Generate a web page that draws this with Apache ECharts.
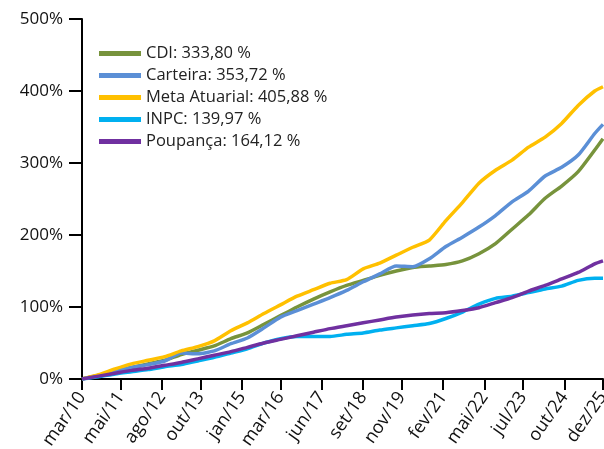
<!DOCTYPE html>
<html>
<head>
<meta charset="utf-8">
<script src="https://cdn.jsdelivr.net/npm/echarts@6/dist/echarts.min.js"></script>
<style>
  html, body { margin: 0; padding: 0; background: #fff; }
  #chart { width: 604px; height: 449px; }
</style>
</head>
<body>
<div id="chart"></div>
<script>
// meses desde mar/10 (amostra semestral)
const months = [0, 6, 12, 18, 24, 30, 36, 42, 48, 54, 60, 66, 72, 78, 84, 90, 96,
  102, 108, 114, 120, 126, 132, 138, 144, 150, 156, 162, 168, 174, 180, 186, 189];

const cdi = [0, 5, 11, 16, 21, 26, 34, 40, 46, 56, 64, 76, 88, 100, 111, 121, 130,
  137, 144, 150, 155, 157, 159, 164, 174, 188, 208, 228, 251, 268, 288, 318, 333.8];
const carteira = [0, 5, 11, 16, 20, 25, 36, 35, 39, 49, 57, 71, 86, 95, 104, 113, 123,
  135, 146, 157, 156, 167, 184, 197, 211, 227, 246, 261, 282, 294, 311, 341, 353.72];
const meta = [0, 6, 14, 21, 26, 31, 39, 45, 53, 67, 78, 91, 103, 115, 124, 133, 138,
  153, 161, 172, 183, 193, 220, 245, 272, 290, 304, 322, 336, 355, 380, 400, 405.88];
const inpc = [0, 3, 7, 10, 13, 17, 20, 25, 30, 36, 42, 50, 56, 59, 59, 59, 62,
  64, 68, 71, 74, 77, 84, 93, 104, 112, 115, 120, 125, 129, 137, 140, 139.97];
const poupanca = [0, 4, 8, 12, 15, 19, 23, 28, 33, 38, 44, 50, 55, 60, 65, 70, 74,
  78, 82, 86, 89, 91, 92, 95, 99, 106, 113, 122, 130, 139, 148, 160, 164.12];

const tickLabels = ['mar/10', 'mai/11', 'ago/12', 'out/13', 'jan/15', 'mar/16', 'jun/17',
  'set/18', 'nov/19', 'fev/21', 'mai/22', 'jul/23', 'out/24', 'dez/25'];

const mesesPt = ['jan', 'fev', 'mar', 'abr', 'mai', 'jun', 'jul', 'ago', 'set', 'out', 'nov', 'dez'];
function labelToMonth(s) {
  const p = s.split('/');
  return (parseInt(p[1], 10) - 10) * 12 + mesesPt.indexOf(p[0]) - 2;
}
const tickMonths = tickLabels.map(labelToMonth);

function pairs(vals) {
  return vals.map((v, i) => [months[i], v]);
}

const seriesDef = [
  { name: 'CDI: 333,80 %', data: cdi, color: '#77933C' },
  { name: 'Carteira: 353,72 %', data: carteira, color: '#5B8FD6' },
  { name: 'Meta Atuarial: 405,88 %', data: meta, color: '#FFC000' },
  { name: 'INPC: 139,97 %', data: inpc, color: '#00B0F0' },
  { name: 'Poupança: 164,12 %', data: poupanca, color: '#7030A0' }
];

const chart = echarts.init(document.getElementById('chart'), null, { renderer: 'canvas' });

const option = {
  animation: false,
  backgroundColor: '#fff',
  grid: { left: 82, right: 1, top: 19, bottom: 70, containLabel: false, outerBoundsMode: 'none' },
  legend: {
    orient: 'vertical',
    left: 94,
    top: 40,
    itemWidth: 42,
    itemHeight: 5,
    itemGap: 5,
    icon: 'rect',
    textStyle: { fontFamily: 'Open Sans', fontSize: 16.5, color: '#222' },
    data: seriesDef.map(s => s.name)
  },
  xAxis: {
    type: 'value',
    min: 0,
    max: 189,
    splitLine: { show: false },
    axisLine: { lineStyle: { color: '#000', width: 2 } },
    axisTick: { show: true, length: 11, customValues: tickMonths, lineStyle: { color: '#000', width: 2 } },
    axisLabel: {
      customValues: tickMonths,
      rotate: 55,
      margin: 15,
      hideOverlap: false,
      fontFamily: 'Open Sans',
      fontSize: 18,
      color: '#111',
      formatter: function (v) {
        const i = tickMonths.indexOf(Math.round(v));
        return i >= 0 ? tickLabels[i] : '';
      }
    }
  },
  yAxis: {
    type: 'value',
    min: 0,
    max: 500,
    interval: 100,
    splitLine: { show: false },
    axisLine: { show: true, lineStyle: { color: '#000', width: 2 } },
    axisTick: { show: true, length: 13, lineStyle: { color: '#000', width: 2 } },
    axisLabel: {
      margin: 19,
      fontFamily: 'Open Sans',
      fontSize: 17,
      color: '#111',
      formatter: '{value}%'
    }
  },
  series: seriesDef.map(s => ({
    name: s.name,
    type: 'line',
    data: pairs(s.data),
    symbol: 'none',
    smooth: 0.2,
    color: s.color,
    lineStyle: { width: 3.5, color: s.color }
  }))
};

chart.setOption(option);
</script>
</body>
</html>
